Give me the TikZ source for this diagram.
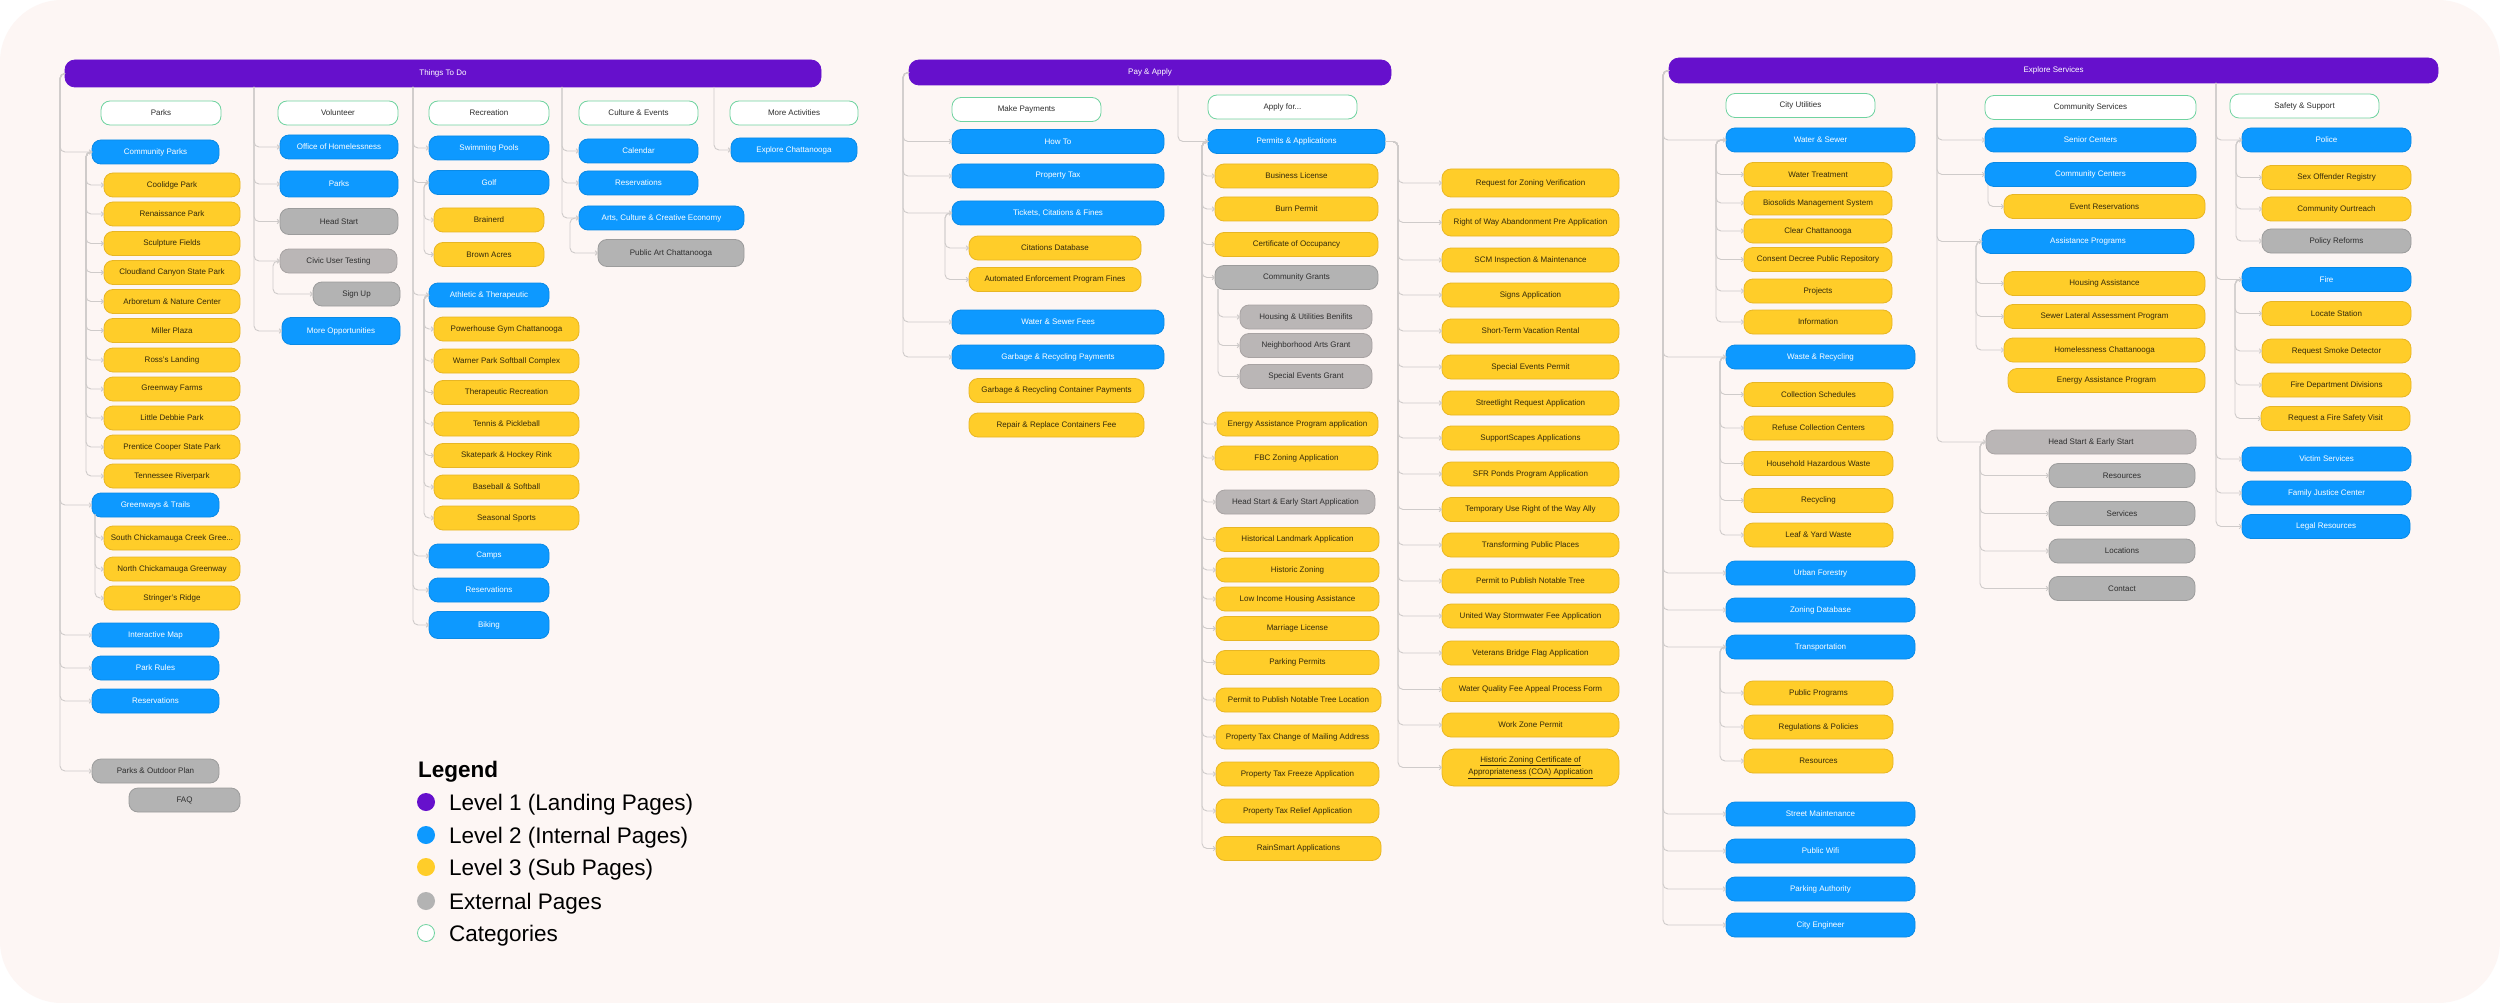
\documentclass[tikz,border=0pt]{standalone}
\usepackage{fontspec}
\setmainfont{Liberation Sans}
\usetikzlibrary{arrows.meta}
\definecolor{bgc}{HTML}{FDF6F4}
\definecolor{cpurple}{HTML}{6610CC}
\definecolor{cblue}{HTML}{0D99FF}
\definecolor{cblueD}{HTML}{0A8AE6}
\definecolor{cyellow}{HTML}{FFCD29}
\definecolor{cyellowD}{HTML}{E8B624}
\definecolor{cgrey}{HTML}{B3B3B3}
\definecolor{cgreyD}{HTML}{9C9C9C}
\definecolor{clgrey}{HTML}{BAB6B6}
\definecolor{clgreyD}{HTML}{A8A3A3}
\definecolor{cgreen}{HTML}{6FD3A0}
\definecolor{lineC}{HTML}{CFCBCA}
\definecolor{ytext}{HTML}{33290A}
\definecolor{gtext}{HTML}{2E2E2E}
\newcommand\bx[6]{\node[#1,minimum width={(#4-#3)*1pt}] (#2) at ({(#3+#4)/2},#5) {#6};}
\tikzset{
  box/.style={rounded corners=9pt, inner sep=0pt, outer sep=0pt, minimum height=24pt,
    font=\fontsize{8}{9.6}\selectfont, line width=0.8pt},
  barbox/.style={box, fill=cpurple, draw=cpurple, text=white, rounded corners=10pt},
  l2/.style={box, fill=cblue, draw=cblueD, text=white},
  l3/.style={box, fill=cyellow, draw=cyellowD, text=ytext},
  ext/.style={box, fill=cgrey, draw=cgreyD, text=gtext},
  extl/.style={box, fill=clgrey, draw=clgreyD, text=gtext},
  cat/.style={box, fill=white, draw=cgreen, text=gtext},
  conn/.style={draw=lineC, line width=0.9pt, rounded corners=5pt, -{Straight Barb[length=2.2pt,width=4.4pt]}},
  legdot/.style={circle, inner sep=0pt, minimum size=18pt},
  legtxt/.style={anchor=base west, font=\fontsize{22.5}{27}\selectfont, text=black, inner sep=0pt}
}
\begin{document}
\begin{tikzpicture}[x=1pt,y=-1pt]
\useasboundingbox (0,0) rectangle (2500,1003);
\fill[white] (0,0) rectangle (2500,1003);
\fill[bgc, rounded corners=62pt] (0,0) rectangle (2500,1003);

% ================= Section 1: Things To Do
\bx{barbox,minimum height=27pt}{bar1}{65}{821}{73.5}{Things To Do}
\bx{cat}{cParks}{101}{221}{113}{Parks}
\bx{cat}{cVol}{278}{398}{113}{Volunteer}
\bx{cat}{cRec}{429}{549}{113}{Recreation}
\bx{cat}{cCul}{579}{698}{113}{Culture \& Events}
\bx{cat}{cMore}{730}{858}{113}{More Activities}
% Parks
\bx{l2}{cpark}{92}{219}{152}{Community Parks}
\bx{l3}{coolidge}{104}{240}{185}{Coolidge Park}
\bx{l3}{renaissance}{104}{240}{214}{Renaissance Park}
\bx{l3}{sculpture}{104}{240}{243.5}{Sculpture Fields}
\bx{l3}{cloudland}{104}{240}{272.5}{Cloudland Canyon State Park}
\bx{l3}{arboretum}{104}{240}{301.5}{Arboretum \& Nature Center}
\bx{l3}{miller}{104}{240}{330.5}{Miller Plaza}
\bx{l3}{ross}{104}{240}{360}{Ross's Landing}
\bx{l3}{gfarms}{104}{240}{389}{Greenway Farms}
\bx{l3}{debbie}{104}{240}{418}{Little Debbie Park}
\bx{l3}{prentice}{104}{240}{447}{Prentice Cooper State Park}
\bx{l3}{tnriver}{104}{240}{476}{Tennessee Riverpark}
\bx{l2}{gw}{92}{219}{505}{Greenways \& Trails}
\bx{l3}{sch}{104}{240}{538}{South Chickamauga Creek Gree...}
\bx{l3}{nch}{104}{240}{569}{North Chickamauga Greenway}
\bx{l3}{stringer}{104}{240}{598}{Stringer's Ridge}
\bx{l2}{imap}{92}{219}{635}{Interactive Map}
\bx{l2}{prules}{92}{219}{668}{Park Rules}
\bx{l2}{pres}{92}{219}{701}{Reservations}
\bx{ext}{pop}{92}{219}{771}{Parks \& Outdoor Plan}
\bx{ext}{faq}{129}{240}{800}{FAQ}
% Volunteer
\bx{l2}{office}{280}{398}{147}{Office of Homelessness}
\bx{l2,minimum height=26pt}{vparks}{280}{398}{184}{Parks}
\bx{ext,minimum height=26pt}{vhead}{280}{398}{221.5}{Head Start}
\bx{extl}{civic}{280}{397}{261}{Civic User Testing}
\bx{ext}{signup}{313}{400}{294}{Sign Up}
\bx{l2,minimum height=27pt}{moreopp}{282}{400}{331}{More Opportunities}
% Recreation
\bx{l2}{swim}{429}{549}{148}{Swimming Pools}
\bx{l2}{golf}{429}{549}{182.5}{Golf}
\bx{l3}{brainerd}{434}{544}{220}{Brainerd}
\bx{l3}{brown}{434}{544}{254.5}{Brown Acres}
\bx{l2}{athl}{429}{549}{295}{Athletic \& Therapeutic}
\bx{l3}{power}{434}{579}{329}{Powerhouse Gym Chattanooga}
\bx{l3}{warner}{434}{579}{361}{Warner Park Softball Complex}
\bx{l3}{therap}{434}{579}{392.5}{Therapeutic Recreation}
\bx{l3}{tennis}{434}{579}{424}{Tennis \& Pickleball}
\bx{l3}{skate}{434}{579}{455.5}{Skatepark \& Hockey Rink}
\bx{l3}{baseball}{434}{579}{487}{Baseball \& Softball}
\bx{l3}{seasonal}{434}{579}{518}{Seasonal Sports}
\bx{l2}{camps}{429}{549}{556}{Camps}
\bx{l2}{rres}{429}{549}{590}{Reservations}
\bx{l2,minimum height=27pt}{biking}{429}{549}{625}{Biking}
% Culture
\bx{l2}{calendar}{579}{698}{151}{Calendar}
\bx{l2}{cres}{579}{698}{183}{Reservations}
\bx{l2}{arts}{579}{744}{218}{Arts, Culture \& Creative Economy}
\bx{ext,minimum height=27pt}{pubart}{598}{744}{253}{Public Art Chattanooga}
% More
\bx{l2}{explore}{731}{857}{150}{Explore Chattanooga}

% connectors section 1
\coordinate (tP) at (60,73.5);
\foreach \n in {cpark,gw,imap,prules,pres,pop} \draw[conn] (bar1.west) -- (tP) |- (\n.west);
\coordinate (tCP) at (86,152);
\foreach \n in {coolidge,renaissance,sculpture,cloudland,arboretum,miller,ross,gfarms,debbie,prentice,tnriver}
  \draw[conn] (cpark.west) -- (tCP) |- (\n.west);
\coordinate (tGW) at (95,514);
\foreach \n in {sch,nch,stringer} \draw[conn] (tGW) |- (\n.west);
\coordinate (tV) at (254,87);
\foreach \n in {office,vparks,vhead,civic,moreopp} \draw[conn] (tV) |- (\n.west);
\coordinate (tCiv) at (273,261);
\draw[conn] (civic.west) -- (tCiv) |- (signup.west);
\coordinate (tR) at (413,87);
\foreach \n in {swim,golf,athl,camps,rres,biking} \draw[conn] (tR) |- (\n.west);
\coordinate (tG) at (424,182.5);
\foreach \n in {brainerd,brown} \draw[conn] (golf.west) -- (tG) |- (\n.west);
\coordinate (tA) at (424,295);
\foreach \n in {power,warner,therap,tennis,skate,baseball,seasonal} \draw[conn] (athl.west) -- (tA) |- (\n.west);
\coordinate (tC) at (562,87);
\foreach \n in {calendar,cres,arts} \draw[conn] (tC) |- (\n.west);
\coordinate (tArts) at (570,218);
\draw[conn] (arts.west) -- (tArts) |- (pubart.west);
\coordinate (tM) at (714,87);
\draw[conn] (tM) |- (explore.west);

% ================= Section 2: Pay & Apply
\bx{barbox,minimum height=25pt}{bar2}{909}{1391}{72.5}{Pay \& Apply}
\bx{cat}{cMake}{952}{1101}{109.5}{Make Payments}
\bx{cat}{cApply}{1208}{1357}{107}{Apply for...}
\bx{l2}{howto}{952}{1164}{141.5}{How To}
\bx{l2}{ptax}{952}{1164}{176}{Property Tax}
\bx{l2}{tickets}{952}{1164}{213}{Tickets, Citations \& Fines}
\bx{l3}{citdb}{969}{1141}{248}{Citations Database}
\bx{l3}{autoenf}{969}{1141}{279.5}{Automated Enforcement Program Fines}
\bx{l2}{wsfees}{952}{1164}{322}{Water \& Sewer Fees}
\bx{l2}{garbage}{952}{1164}{357}{Garbage \& Recycling Payments}
\bx{l3}{gcont}{969}{1144}{390.5}{Garbage \& Recycling Container Payments}
\bx{l3}{repair}{969}{1144}{425}{Repair \& Replace Containers Fee}
\bx{l2}{permits}{1208}{1385}{141.5}{Permits \& Applications}
\bx{l3}{buslic}{1215}{1378}{176}{Business License}
\bx{l3}{burn}{1215}{1378}{209}{Burn Permit}
\bx{l3}{certocc}{1215}{1378}{244.5}{Certificate of Occupancy}
\bx{ext}{cgrants}{1215}{1378}{277.5}{Community Grants}
\bx{extl}{housing}{1240}{1372}{317}{Housing \& Utilities Benifits}
\bx{extl}{narts}{1240}{1372}{345.5}{Neighborhood Arts Grant}
\bx{extl}{segrant}{1240}{1372}{376.5}{Special Events Grant}
\bx{l3}{energy}{1217}{1378}{424}{Energy Assistance Program application}
\bx{l3}{fbc}{1215}{1378}{458}{FBC Zoning Application}
\bx{extl}{hsapp}{1216}{1375}{502}{Head Start \& Early Start Application}
\bx{l3}{histland}{1216}{1379}{539.5}{Historical Landmark Application}
\bx{l3}{histzon}{1216}{1379}{570}{Historic Zoning}
\bx{l3}{lowinc}{1216}{1379}{599}{Low Income Housing Assistance}
\bx{l3}{marriage}{1216}{1379}{628.5}{Marriage License}
\bx{l3}{parkperm}{1216}{1379}{662.5}{Parking Permits}
\bx{l3}{ptnotable}{1216}{1381}{700}{Permit to Publish Notable Tree Location}
\bx{l3}{ptchange}{1216}{1379}{737}{Property Tax Change of Mailing Address}
\bx{l3}{ptfreeze}{1216}{1379}{774}{Property Tax Freeze Application}
\bx{l3}{ptrelief}{1216}{1379}{811}{Property Tax Relief Application}
\bx{l3}{rainsmart}{1216}{1381}{848.5}{RainSmart Applications}
\bx{l3,minimum height=28pt}{reqzon}{1442}{1619}{183}{Request for Zoning Verification}
\bx{l3,minimum height=27pt}{rowab}{1442}{1619}{222.5}{Right of Way Abandonment Pre Application}
\bx{l3}{scm}{1442}{1619}{260}{SCM Inspection \& Maintenance}
\bx{l3}{signs}{1442}{1619}{295}{Signs Application}
\bx{l3}{strental}{1442}{1619}{331}{Short-Term Vacation Rental}
\bx{l3}{sepermit}{1442}{1619}{367}{Special Events Permit}
\bx{l3}{streetlight}{1442}{1619}{403}{Streetlight Request Application}
\bx{l3}{supportsc}{1442}{1619}{438}{SupportScapes Applications}
\bx{l3}{sfr}{1442}{1619}{474}{SFR Ponds Program Application}
\bx{l3}{tempuse}{1442}{1619}{509.5}{Temporary Use Right of the Way Ally}
\bx{l3}{transform}{1442}{1619}{545}{Transforming Public Places}
\bx{l3}{ptree}{1442}{1619}{581}{Permit to Publish Notable Tree}
\bx{l3}{unitedway}{1442}{1619}{616}{United Way Stormwater Fee Application}
\bx{l3}{veterans}{1442}{1619}{653}{Veterans Bridge Flag Application}
\bx{l3}{waterq}{1442}{1619}{689.5}{Water Quality Fee Appeal Process Form}
\bx{l3}{workzone}{1442}{1619}{725}{Work Zone Permit}
\bx{l3,minimum height=37pt,align=center,rounded corners=12pt,font=\fontsize{8}{12.5}\selectfont}{coa}{1442}{1619}{767.5}{\underline{Historic Zoning Certificate of}\\\underline{Appropriateness (COA) Application}}

% connectors section 2
\coordinate (tPA) at (903,72.5);
\foreach \n in {howto,ptax,tickets,wsfees,garbage} \draw[conn] (bar2.west) -- (tPA) |- (\n.west);
\coordinate (tTk) at (945,213);
\foreach \n in {citdb,autoenf} \draw[conn] (tickets.west) -- (tTk) |- (\n.west);
\coordinate (tAp) at (1178,85);
\draw[conn] (tAp) |- (permits.west);
\coordinate (tPm) at (1202,141.5);
\foreach \n in {buslic,burn,certocc,cgrants,energy,fbc,hsapp,histland,histzon,lowinc,marriage,parkperm,ptnotable,ptchange,ptfreeze,ptrelief,rainsmart}
  \draw[conn] (permits.west) -- (tPm) |- (\n.west);
\coordinate (tCG) at (1218,289);
\foreach \n in {housing,narts,segrant} \draw[conn] (tCG) |- (\n.west);
\coordinate (tPR) at (1398,141.5);
\foreach \n in {reqzon,rowab,scm,signs,strental,sepermit,streetlight,supportsc,sfr,tempuse,transform,ptree,unitedway,veterans,waterq,workzone,coa}
  \draw[conn] (permits.east) -- (tPR) |- (\n.west);

% ================= Section 3: Explore Services
\bx{barbox,minimum height=25pt}{bar3}{1669}{2438}{70.5}{Explore Services}
\bx{cat}{cCity}{1726}{1875}{105.5}{City Utilities}
\bx{cat}{cComm}{1985}{2196}{107.5}{Community Services}
\bx{cat}{cSafe}{2230}{2379}{106}{Safety \& Support}
\bx{l2}{ws}{1726}{1915}{140}{Water \& Sewer}
\bx{l3}{wtreat}{1744}{1892}{174.5}{Water Treatment}
\bx{l3}{bios}{1744}{1892}{203}{Biosolids Management System}
\bx{l3}{clear}{1744}{1892}{231}{Clear Chattanooga}
\bx{l3}{consent}{1744}{1892}{259.5}{Consent Decree Public Repository}
\bx{l3}{projects}{1744}{1892}{291}{Projects}
\bx{l3}{info}{1744}{1892}{322}{Information}
\bx{l2}{wr}{1726}{1915}{357}{Waste \& Recycling}
\bx{l3}{collect}{1744}{1893}{394.5}{Collection Schedules}
\bx{l3}{refuse}{1744}{1893}{428}{Refuse Collection Centers}
\bx{l3}{hhw}{1744}{1893}{463.5}{Household Hazardous Waste}
\bx{l3}{recyc}{1744}{1893}{500.5}{Recycling}
\bx{l3}{leaf}{1744}{1893}{535}{Leaf \& Yard Waste}
\bx{l2}{uf}{1726}{1915}{573}{Urban Forestry}
\bx{l2}{zd}{1726}{1915}{610}{Zoning Database}
\bx{l2}{trans}{1726}{1915}{647}{Transportation}
\bx{l3}{pubprog}{1744}{1893}{693}{Public Programs}
\bx{l3}{regs}{1744}{1893}{727}{Regulations \& Policies}
\bx{l3}{res3}{1744}{1893}{761}{Resources}
\bx{l2}{street}{1726}{1915}{814}{Street Maintenance}
\bx{l2}{wifi}{1726}{1915}{851}{Public Wifi}
\bx{l2}{parking}{1726}{1915}{889}{Parking Authority}
\bx{l2}{engineer}{1726}{1915}{925}{City Engineer}
\bx{l2}{senior}{1985}{2196}{140}{Senior Centers}
\bx{l2}{ccent}{1985}{2196}{174.5}{Community Centers}
\bx{l3}{eventres}{2004}{2205}{206.5}{Event Reservations}
\bx{l2}{assist}{1982}{2194}{241.5}{Assistance Programs}
\bx{l3}{housasst}{2004}{2205}{283.5}{Housing Assistance}
\bx{l3}{sewer}{2004}{2205}{316.5}{Sewer Lateral Assessment Program}
\bx{l3}{homeless}{2004}{2205}{350}{Homelessness Chattanooga}
\bx{l3}{energy3}{2008}{2205}{380.5}{Energy Assistance Program}
\bx{extl}{hses}{1986}{2196}{442}{Head Start \& Early Start}
\bx{ext}{hres}{2049}{2195}{475.5}{Resources}
\bx{ext}{hserv}{2049}{2195}{513.5}{Services}
\bx{ext}{hloc}{2049}{2195}{551}{Locations}
\bx{ext}{hcont}{2049}{2195}{588.5}{Contact}
\bx{l2}{police}{2242}{2411}{140}{Police}
\bx{l3}{sexoff}{2262}{2411}{177.5}{Sex Offender Registry}
\bx{l3}{outreach}{2262}{2411}{209}{Community Ourtreach}
\bx{ext}{policy}{2262}{2411}{241}{Policy Reforms}
\bx{l2}{fire}{2242}{2411}{279.5}{Fire}
\bx{l3}{locate}{2262}{2411}{313.5}{Locate Station}
\bx{l3}{smoke}{2262}{2411}{351}{Request Smoke Detector}
\bx{l3}{fdd}{2262}{2411}{385}{Fire Department Divisions}
\bx{l3}{firevisit}{2261}{2410}{418.5}{Request a Fire Safety Visit}
\bx{l2}{victim}{2242}{2411}{459}{Victim Services}
\bx{l2}{family}{2242}{2411}{493}{Family Justice Center}
\bx{l2}{legal}{2242}{2410}{526.5}{Legal Resources}

% connectors section 3
\coordinate (tES) at (1663,70.5);
\foreach \n in {ws,wr,uf,zd,trans,street,wifi,parking,engineer} \draw[conn] (bar3.west) -- (tES) |- (\n.west);
\coordinate (tWS) at (1716,140);
\foreach \n in {wtreat,bios,clear,consent,projects,info} \draw[conn] (ws.west) -- (tWS) |- (\n.west);
\coordinate (tWR) at (1720,357);
\foreach \n in {collect,refuse,hhw,recyc,leaf} \draw[conn] (wr.west) -- (tWR) |- (\n.west);
\coordinate (tTR) at (1720,647);
\foreach \n in {pubprog,regs,res3} \draw[conn] (trans.west) -- (tTR) |- (\n.west);
\coordinate (tCS) at (1937,83);
\foreach \n in {senior,ccent,assist,hses} \draw[conn] (tCS) |- (\n.west);
\coordinate (tCC) at (1988,185);
\draw[conn] (tCC) |- (eventres.west);
\coordinate (tAS) at (1976,241.5);
\foreach \n in {housasst,sewer,homeless} \draw[conn] (assist.west) -- (tAS) |- (\n.west);
\coordinate (tHS) at (1980,442);
\foreach \n in {hres,hserv,hloc,hcont} \draw[conn] (hses.west) -- (tHS) |- (\n.west);
\coordinate (tSS) at (2216,83);
\foreach \n in {police,fire,victim,family,legal} \draw[conn] (tSS) |- (\n.west);
\coordinate (tPo) at (2236,140);
\foreach \n in {sexoff,outreach,policy} \draw[conn] (police.west) -- (tPo) |- (\n.west);
\coordinate (tFi) at (2235,279.5);
\foreach \n in {locate,smoke,fdd,firevisit} \draw[conn] (fire.west) -- (tFi) |- (\n.west);

% ================= Legend
\node[anchor=base west, font=\fontsize{22.5}{27}\selectfont\bfseries, inner sep=0pt] (legT) at (418,777) {Legend};
\node[legdot, fill=cpurple] (ld1) at (426,802) {};
\node[legdot, fill=cblue] (ld2) at (426,835) {};
\node[legdot, fill=cyellow] (ld3) at (426,867) {};
\node[legdot, fill=cgrey] (ld4) at (426,901) {};
\node[legdot, fill=white, draw=cgreen, line width=0.8pt, minimum size=17pt] (ld5) at (426,933) {};
\node[legtxt] (lt1) at (449,810) {Level 1 (Landing Pages)};
\node[legtxt] (lt2) at (449,843) {Level 2 (Internal Pages)};
\node[legtxt] (lt3) at (449,875) {Level 3 (Sub Pages)};
\node[legtxt] (lt4) at (449,909) {External Pages};
\node[legtxt] (lt5) at (449,941) {Categories};
\end{tikzpicture}
\end{document}
